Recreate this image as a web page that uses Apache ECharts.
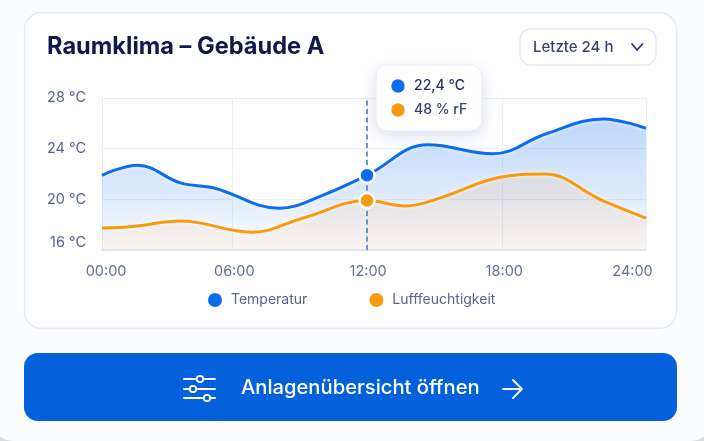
<!DOCTYPE html>
<html><head><meta charset="utf-8">
<script src="https://cdn.jsdelivr.net/npm/echarts@6/dist/echarts.min.js"></script>
<style>html,body{margin:0;padding:0;background:#fff}#c{width:704px;height:441px}</style>
</head><body><div id="c"></div>
<script>
const tempHours=[0.22,1.8,3.7,5.2,8.1,10,12,14.7,17.6,20,22.5,24.4];
const temperature=[21.9,22.7,21.3,20.9,19.3,20.3,21.9,24.3,23.6,25.2,26.35,25.6];
const humHours=[0.22,1.6,3.7,6.9,9.2,12,13.7,15.3,17.8,19.9,22.4,24.4];
const humidity=[40.8,41.2,42.6,39.7,43.5,48,46.6,48.8,54,55,48.2,43.4];
const xGridHours=[0.22,6,12,18,24.4];
const xLabelHours=[0.4,6.1,12.05,18.1,23.8];
const xTickLabels=['00:00','06:00','12:00','18:00','24:00'];
const yTicks=[16,20,24,28];
const seriesNames=['Temperatur','Lufffeuchtigkeit'];
const tooltipTexts=['22,4 °C','48 % rF'];
const titleText='Raumklima – Gebäude A';
const selectText='Letzte 24 h';
const buttonText='Anlagenübersicht öffnen';
const selectedHour=12;
const BLUE='#0B6CF0',ORANGE='#F79A0E',FONT='Inter, "Noto Sans", sans-serif';
const zip=(hs,a)=>hs.map((h,i)=>[h,a[i]]);
const chart=echarts.init(document.getElementById('c'));
const ln=(x1,y1,x2,y2,col,w,z)=>({type:'line',shape:{x1,y1,x2,y2},style:{stroke:col,lineWidth:w,lineCap:'round'},z:z||1});
const knob=(cx,cy)=>({type:'circle',shape:{cx,cy,r:3.2},style:{fill:'#0560DB',stroke:'#fff',lineWidth:1.8},z:3});
const graphic=[
 {type:'rect',shape:{x:-10,y:-40,width:724,height:481,r:24},style:{fill:'#FBFCFE'},z:-10},
 {type:'rect',shape:{x:24.5,y:12.5,width:652,height:316,r:17},style:{fill:'#FEFEFF',stroke:'#E2E8F5',lineWidth:1.3},z:-9},
 {type:'text',style:{x:47,y:47,text:titleText,font:'700 23.6px '+FONT,fill:'#0F1A4B',textVerticalAlign:'middle'},z:1},
 {type:'rect',shape:{x:520,y:29,width:136,height:36,r:11},style:{fill:'#FEFEFF',stroke:'#E3E9F5',lineWidth:1.3},z:1},
 {type:'text',style:{x:533,y:47,text:selectText,font:'500 15px '+FONT,fill:'#36436F',textVerticalAlign:'middle'},z:1},
 {type:'polyline',shape:{points:[[632,44],[637,50],[642.5,44]]},style:{stroke:'#2B3A67',lineWidth:1.8,fill:null,lineCap:'round',lineJoin:'round'},z:1},
 {type:'rect',shape:{x:376,y:65,width:106,height:66,r:11},style:{fill:'#FFFFFF',stroke:'#E6ECF7',lineWidth:1,shadowColor:'rgba(60,90,160,0.16)',shadowBlur:16,shadowOffsetY:4},z:20},
 {type:'circle',shape:{cx:398,cy:86,r:6.7},style:{fill:BLUE},z:21},
 {type:'circle',shape:{cx:398,cy:110,r:6.7},style:{fill:ORANGE},z:21},
 {type:'text',style:{x:414,y:86,text:tooltipTexts[0],font:'500 14px '+FONT,fill:'#27325F',textVerticalAlign:'middle'},z:21},
 {type:'text',style:{x:414,y:110,text:tooltipTexts[1],font:'500 14px '+FONT,fill:'#36436F',textVerticalAlign:'middle'},z:21},
 {type:'rect',shape:{x:24,y:353,width:653,height:68,r:14},style:{fill:'#0560DB'},z:1},
 {type:'text',style:{x:241,y:388,text:buttonText,font:'500 20.2px '+FONT,fill:'#fff',textVerticalAlign:'middle'},z:2},
 ln(184,379,215,379,'#fff',1.8,2),ln(184,389,215,389,'#fff',1.8,2),ln(184,398,215,398,'#fff',1.8,2),
 knob(200,379),knob(193,389),knob(207,398),
 ln(503,389,521,389,'#fff',1.8,2),
 {type:'polyline',shape:{points:[[513,380],[522,389],[513,398]]},style:{stroke:'#fff',lineWidth:1.8,fill:null,lineCap:'round',lineJoin:'round'},z:2}
];
const dot=(c,v)=>({symbol:'circle',symbolSize:15,label:{show:false},silent:true,data:[{coord:[selectedHour,v]}],itemStyle:{color:c,borderColor:'#fff',borderWidth:2.5}});
chart.setOption({
 animation:false,
 backgroundColor:'#D9DBE0',
 textStyle:{fontFamily:FONT},
 graphic:graphic,
 grid:{left:102,right:58,top:98,bottom:191},
 legend:{left:203,top:288,itemWidth:14,itemHeight:14,itemGap:62,icon:'circle',selectedMode:false,data:seriesNames,
   textStyle:{color:'#56658C',fontSize:14,fontFamily:FONT,padding:[0,0,0,4]}},
 xAxis:{type:'value',min:tempHours[0],max:tempHours[tempHours.length-1],
   axisLine:{show:true,lineStyle:{color:'#DDE4F2',width:1.5}},axisTick:{show:false,customValues:xGridHours},
   axisLabel:{customValues:xLabelHours,color:'#62708F',fontSize:14.5,margin:14,
     showMinLabel:true,showMaxLabel:true,hideOverlap:false,
     formatter:(v)=>xTickLabels[xLabelHours.indexOf(v)]||''},
   splitLine:{show:true,lineStyle:{color:'#EAEEF8',width:1}}},
 yAxis:[{type:'value',min:yTicks[0],max:yTicks[yTicks.length-1],interval:4,
   axisLine:{show:true,lineStyle:{color:'#EAEEF8'}},axisTick:{show:false},
   axisLabel:{formatter:'{value} °C',color:'#56658C',fontSize:14.5,margin:16,verticalAlignMinLabel:'bottom'},
   splitLine:{show:true,lineStyle:{color:'#EAEEF8',width:1}}},
  {type:'value',min:35,max:75,show:false,splitLine:{show:false}}],
 series:[
  {name:seriesNames[0],type:'line',smooth:0.4,showSymbol:false,data:zip(tempHours,temperature),z:3,
   itemStyle:{color:BLUE},
   lineStyle:{color:BLUE,width:3,shadowColor:'rgba(255,255,255,0.9)',shadowBlur:4},
   areaStyle:{color:new echarts.graphic.LinearGradient(0,0,0,1,[{offset:0,color:'rgba(30,120,245,0.42)'},{offset:0.6,color:'rgba(50,130,240,0.22)'},{offset:1,color:'rgba(90,140,230,0.02)'}])},
   markLine:{silent:true,symbol:'none',label:{show:false},data:[{xAxis:selectedHour}],lineStyle:{color:'#3C76C8',width:1.5,type:[5,3.5]}},
   markPoint:dot(BLUE,temperature[tempHours.indexOf(selectedHour)])},
  {name:seriesNames[1],type:'line',yAxisIndex:1,smooth:0.4,showSymbol:false,data:zip(humHours,humidity),z:4,
   itemStyle:{color:ORANGE},
   lineStyle:{color:ORANGE,width:3,shadowColor:'rgba(255,255,255,0.9)',shadowBlur:4},
   areaStyle:{color:new echarts.graphic.LinearGradient(0,0,0,1,[{offset:0,color:'rgba(235,165,90,0.22)'},{offset:1,color:'rgba(245,170,100,0.14)'}])},
   markPoint:dot(ORANGE,humidity[humHours.indexOf(selectedHour)])}
 ]
});
</script></body></html>
